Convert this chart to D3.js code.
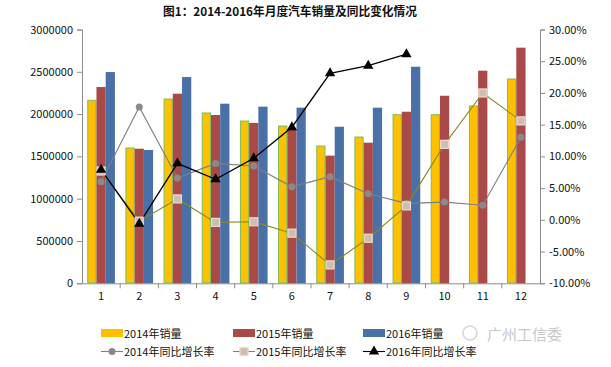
<!DOCTYPE html>
<html><head><meta charset="utf-8">
<script src="https://cdn.jsdelivr.net/npm/d3@7/dist/d3.min.js"></script>
<style>
body{margin:0;background:#fff;}
text{font-family:"Noto Sans CJK SC","DejaVu Sans",sans-serif;}
</style></head>
<body><svg id="c" width="611" height="367"></svg>
<script>
const months = ["1","2","3","4","5","6","7","8","9","10","11","12"];
const sales2014 = [2163000,1599000,2178000,2013000,1918000,1859000,1623000,1729000,1993000,1993000,2096000,2415000];
const sales2015 = [2320000,1591000,2241000,1989000,1896000,1820000,1509000,1662000,2028000,2217000,2513000,2785000];
const sales2016 = [2497000,1576000,2438000,2123000,2088000,2076000,1851000,2076000,2560000];
const growth2014 = [6.0,17.8,6.6,8.9,8.5,5.2,6.8,4.1,2.6,2.8,2.3,13.0];
const growth2015 = [7.7,-0.2,3.3,-0.4,-0.3,-2.1,-7.1,-2.9,2.2,11.9,20.0,15.6];
const growth2016 = [7.9,-0.6,8.9,6.4,9.7,14.6,23.1,24.3,26.1];
const leftTicks = [0,500000,1000000,1500000,2000000,2500000,3000000];
const rightTicks = [-10,-5,0,5,10,15,20,25,30];
const title = "图1：2014-2016年月度汽车销量及同比变化情况";
const barNames = ["2014年销量","2015年销量","2016年销量"];
const lineNames = ["2014年同比增长率","2015年同比增长率","2016年同比增长率"];

const svg = d3.select("#c");
const L=82, R=540, T=29.5, B=283.3;
const x = d3.scaleBand().domain(months).range([L,R]).paddingInner(0);
const yL = d3.scaleLinear().domain([0,3000000]).range([B,T]);
const yR = d3.scaleLinear().domain([-10,30]).range([B,T]);
const bandW = x.bandwidth();
const groupW = bandW*0.725;
const xs = d3.scaleBand().domain([0,1,2]).range([0,groupW]);
const barFill = ["#FFC000","#A94A48","#4A70A8"];
const barStroke = ["#7DBE5A","none","none"];

// title
svg.append("text").attr("x",163).attr("y",16).attr("text-anchor","start")
  .attr("font-size",12).attr("font-weight","bold").attr("fill","#111")
  .attr("textLength",254).attr("lengthAdjust","spacingAndGlyphs").text(title);

// axes
const gL = svg.append("g").attr("transform",`translate(${L},0)`)
  .call(d3.axisLeft(yL).tickValues(leftTicks).tickSize(5).tickPadding(4).tickFormat(d=>String(d)));
const gR = svg.append("g").attr("transform",`translate(${R},0)`)
  .call(d3.axisRight(yR).tickValues(rightTicks).tickSize(5).tickPadding(4).tickFormat(d=>d.toFixed(2)+"%"));
const gX = svg.append("g").attr("transform",`translate(0,${B})`)
  .call(d3.axisBottom(x).tickSize(0).tickPadding(9));
[gL,gR,gX].forEach(g=>{
  g.selectAll("path").attr("stroke","#8c8c8c");
  g.selectAll("line").attr("stroke","#8c8c8c");
  g.selectAll("text").attr("font-size",11).attr("fill","#111").attr("font-family","DejaVu Sans, sans-serif");
});
// category boundary ticks
gX.selectAll(".bt").data(months.slice(1)).enter().append("line")
  .attr("x1",d=>x(d)).attr("x2",d=>x(d)).attr("y1",0).attr("y2",5).attr("stroke","#8c8c8c");

// bars
const series = [sales2014,sales2015,sales2016];
series.forEach((s,i)=>{
  svg.append("g").selectAll("rect").data(s).enter().append("rect")
    .attr("x",(d,j)=>x(months[j])+(bandW-groupW)/2+xs(i)+(i===0?0.5:0))
    .attr("width",xs.bandwidth()-(i===0?1:0))
    .attr("y",d=>yL(d)).attr("height",d=>B-yL(d)-(i===0?0.5:0))
    .attr("fill",barFill[i]).attr("stroke",barStroke[i]).attr("stroke-width",1);
});

// lines
const cx = j=>x(months[j])+bandW/2;
const lineGen = d3.line().x((d,j)=>cx(j)).y(d=>yR(d));
const lineCol = ["#7f7f7f","#8a8a1e","#000000"];
const lineData = [growth2014,growth2015,growth2016];
lineData.forEach((s,i)=>{
  svg.append("path").datum(s).attr("d",lineGen).attr("fill","none")
    .attr("stroke",lineCol[i]).attr("stroke-width",i===2?1.3:1.1);
});
function marker(g,i,px,py){
  if(i===0){
    g.append("circle").attr("cx",px).attr("cy",py).attr("r",3.5).attr("fill","#8a8a8a");
  } else if(i===1){
    g.append("rect").attr("x",px-4).attr("y",py-4).attr("width",8).attr("height",8)
      .attr("fill","#c9bfb4").attr("stroke","#f3d9c9").attr("stroke-width",1.2);
  } else {
    g.append("path").attr("d",d3.symbol(d3.symbolTriangle,46)()).attr("transform",`translate(${px},${py})`).attr("fill","#000");
  }
}
lineData.forEach((s,i)=>{
  const g = svg.append("g");
  s.forEach((d,j)=>marker(g,i,cx(j),yR(d)));
});

// legend
const lg = svg.append("g");
const lx = [101,233,363];
barNames.forEach((n,i)=>{
  lg.append("rect").attr("x",lx[i]).attr("y",329).attr("width",22).attr("height",8).attr("fill",barFill[i]);
  lg.append("text").attr("x",lx[i]+23).attr("y",337.5).attr("font-size",11).attr("fill","#111").text(n);
});
lineNames.forEach((n,i)=>{
  const yy=351.5;
  lg.append("line").attr("x1",lx[i]).attr("x2",lx[i]+22).attr("y1",yy).attr("y2",yy).attr("stroke",lineCol[i]).attr("stroke-width",1.1);
  marker(lg,i,lx[i]+11,yy);
  lg.append("text").attr("x",lx[i]+23).attr("y",355.5).attr("font-size",11).attr("fill","#111").text(n);
});
// watermark
svg.append("text").attr("x",487).attr("y",340).attr("font-size",15).attr("fill","#c8c8c8").attr("text-anchor","start").text("广州工信委");
svg.append("circle").attr("cx",470).attr("cy",333).attr("r",7).attr("fill","none").attr("stroke","#d6d6d6").attr("stroke-width",1.5);
</script></body></html>
